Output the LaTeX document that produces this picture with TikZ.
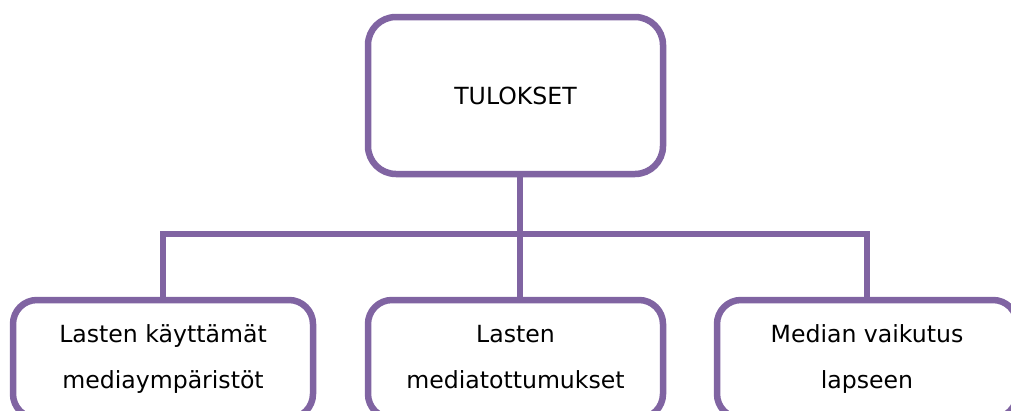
\documentclass[tikz,border=0pt]{standalone}
\usepackage{fontspec}
\setmainfont{DejaVu Sans}
\definecolor{boxpurple}{HTML}{8064A2}
\begin{document}
\begin{tikzpicture}[x=1pt,y=-1pt,
  boxstyle/.style={draw=boxpurple, line width=6.5pt, rounded corners=28pt, fill=white,
    align=center, font=\fontsize{23.6}{46}\selectfont, inner sep=0pt},
  lowbox/.style={boxstyle, rounded corners=24pt, minimum height=118pt,
    execute at begin node={\vphantom{Äy}}},
  conn/.style={draw=boxpurple, line width=6.5pt}]
\clip (0,0) rectangle (1011,410);
\useasboundingbox (0,0) rectangle (1011,410);
\node[boxstyle, minimum width=295pt, minimum height=157pt] (top) at (515.5,95.5) {TULOKSET};
\node[lowbox, minimum width=300pt] (left) at (163,359) {Lasten käyttämät\\mediaympäristöt};
\node[lowbox, minimum width=295pt] (mid) at (515.5,359) {Lasten\\mediatottumukset};
\node[lowbox, minimum width=300pt] (right) at (867,359) {Median vaikutus\\lapseen};
\coordinate (bus) at (520,234);
\draw[conn] ([xshift=4.5pt]top.south) -- ([xshift=4.5pt]mid.north);
\draw[conn] (left.north) -- (left.north |- bus) -- (right.north |- bus) -- (right.north);
\end{tikzpicture}
\end{document}
